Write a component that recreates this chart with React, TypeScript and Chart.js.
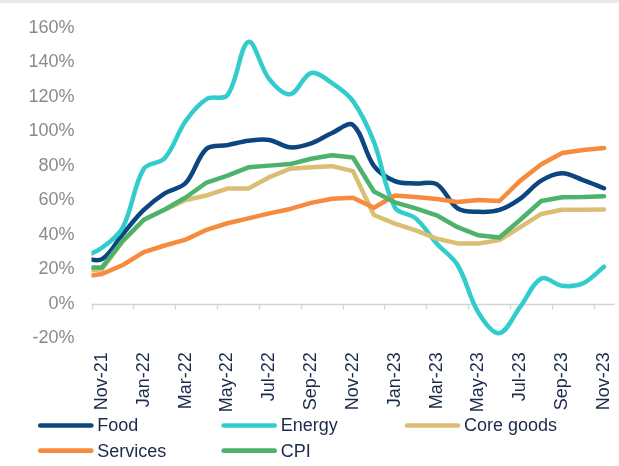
import React, { useEffect, useRef } from 'react';
import { Chart, registerables } from 'chart.js';

Chart.register(...registerables);

// Months (first entry is the lead-in month, left of the visible axis)
const months = [
  'Oct-21', 'Nov-21', 'Dec-21', 'Jan-22', 'Feb-22', 'Mar-22', 'Apr-22', 'May-22', 'Jun-22',
  'Jul-22', 'Aug-22', 'Sep-22', 'Oct-22', 'Nov-22', 'Dec-22', 'Jan-23', 'Feb-23', 'Mar-23',
  'Apr-23', 'May-23', 'Jun-23', 'Jul-23', 'Aug-23', 'Sep-23', 'Oct-23', 'Nov-23',
];

const food = [26.8, 25.9, 40.5, 54.4, 64, 70, 89.9, 92, 94.5, 95, 90.7, 93, 99, 103.7, 80, 71.1, 69.7, 69.4, 55.3, 53.3, 54.4, 61, 71.4, 75.7, 71.7, 67];
const energy = [26.5, 32.5, 44.4, 78.3, 84.4, 106, 118.7, 121, 151.8, 130.2, 121.5, 133.8, 127.9, 117.5, 93.9, 55.9, 49.5, 35, 22.5, -5.2, -17, -1.7, 14.7, 10.4, 11.9, 21.5];
const coreGoods = [19.3, 19.9, 36.3, 48.7, 54.5, 60.2, 62.8, 66.8, 66.8, 73.4, 78.3, 79.2, 79.8, 76.9, 51.5, 46.5, 42.6, 37.8, 35, 35, 36.9, 44.4, 52.1, 54.5, 54.5, 54.7];
const services = [15.5, 17.3, 22.5, 30, 33.8, 37.2, 42.9, 46.7, 49.5, 52.4, 55, 58.5, 60.9, 61.5, 55.7, 62.8, 61.9, 60.8, 59, 60.2, 59.6, 71.4, 80.9, 87.4, 89.1, 90.3];
const cpi = [21.1, 21.1, 36.6, 48.7, 54.7, 61.6, 70.3, 74.3, 79.1, 80.1, 81, 84.1, 86.1, 84.8, 65.1, 58.8, 55.3, 51.3, 44.4, 39.7, 38.4, 48.7, 59.6, 61.8, 61.9, 62.3];

const yTicks = [-20, 0, 20, 40, 60, 80, 100, 120, 140, 160];

const FONT = 'Liberation Sans, Arial, sans-serif';
const NAVY_TEXT = '#1b2a4a';
const GRAY_TEXT = '#8a8a8a';

const seriesDefs = [
  { label: 'Food', data: food, color: '#0c457f', tension: 0.35, order: 5 },
  { label: 'Energy', data: energy, color: '#33cccc', tension: 0.35, order: 4 },
  { label: 'Core goods', data: coreGoods, color: '#dbbd74', tension: 0, order: 3 },
  { label: 'Services', data: services, color: '#f68b3d', tension: 0, order: 2 },
  { label: 'CPI', data: cpi, color: '#4db36a', tension: 0, order: 1 },
];

// index relative to Nov-21
const xOf = (i: number) => i - 1;

const zeroAxisPlugin = {
  id: 'zeroAxis',
  beforeDatasetsDraw(chart: any) {
    const { ctx, chartArea, scales } = chart;
    const x = scales.x;
    const y = scales.y;
    const y0 = Math.round(y.getPixelForValue(0)) + 0.5;
    ctx.save();
    ctx.strokeStyle = '#d4d4d4';
    ctx.lineWidth = 1.3;
    ctx.beginPath();
    ctx.moveTo(chartArea.left, y0);
    ctx.lineTo(chartArea.right, y0);
    for (let k = 1; k < months.length; k += 2) {
      const px = Math.round(x.getPixelForValue(xOf(k) - 0.5)) + 0.5;
      ctx.moveTo(px, y0);
      ctx.lineTo(px, y0 + 5);
    }
    ctx.stroke();
    ctx.restore();
  },
};

const legendPlugin = {
  id: 'gridLegend',
  afterDraw(chart: any) {
    const { ctx } = chart;
    const cols = [38.3, 221.7, 405];
    const rows = [425.5, 450.7];
    ctx.save();
    ctx.font = `18px ${FONT}`;
    ctx.textBaseline = 'middle';
    ctx.textAlign = 'left';
    seriesDefs.forEach((s, i) => {
      const cx = cols[i % 3];
      const cy = rows[Math.floor(i / 3)];
      ctx.strokeStyle = s.color;
      ctx.lineWidth = 4.7;
      ctx.lineCap = 'round';
      ctx.beginPath();
      ctx.moveTo(cx + 2, cy);
      ctx.lineTo(cx + 53, cy);
      ctx.stroke();
      ctx.fillStyle = NAVY_TEXT;
      ctx.fillText(s.label, cx + 59, cy + 1);
    });
    ctx.restore();
  },
};

export default function App() {
  const ref = useRef<HTMLCanvasElement>(null);

  useEffect(() => {
    document.body.style.margin = '0';
    const canvas = ref.current;
    if (!canvas) return;
    const chart = new Chart(canvas, {
      type: 'line',
      data: {
        datasets: seriesDefs.map((s) => ({
          label: s.label,
          data: s.data.map((v, i) => ({ x: xOf(i), y: v })),
          borderColor: s.color,
          backgroundColor: s.color,
          borderWidth: 4.5,
          pointRadius: 0,
          pointHoverRadius: 0,
          tension: s.tension,
          borderCapStyle: 'round',
          borderJoinStyle: 'round',
          fill: false,
          order: s.order,
        })),
      },
      options: {
        responsive: false,
        animation: false,
        devicePixelRatio: 1,
        layout: { padding: { left: 28, right: 19.7, top: 26, bottom: 0 } },
        plugins: {
          legend: { display: false },
          tooltip: { enabled: false },
        },
        scales: {
          x: {
            type: 'linear',
            min: -0.5,
            max: 24.5,
            grid: { display: false, drawTicks: false },
            border: { display: false },
            afterBuildTicks: (scale: any) => {
              scale.ticks = months.slice(1).map((_, i) => ({ value: i }));
            },
            afterFit: (scale: any) => {
              scale.height = 127.7;
            },
            ticks: {
              autoSkip: false,
              minRotation: 90,
              maxRotation: 90,
              padding: 14,
              color: NAVY_TEXT,
              font: { family: FONT, size: 18 },
              callback: (value: any) => {
                const i = Math.round(Number(value));
                return i % 2 === 0 ? months[i + 1] : '';
              },
            },
          },
          y: {
            min: yTicks[0],
            max: yTicks[yTicks.length - 1],
            grid: { display: false, drawTicks: false },
            border: { display: false },
            afterBuildTicks: (scale: any) => {
              scale.ticks = yTicks.map((v) => ({ value: v }));
            },
            afterFit: (scale: any) => {
              scale.width = 63.5;
            },
            ticks: {
              padding: 17,
              color: GRAY_TEXT,
              font: { family: FONT, size: 18 },
              callback: (value: any) => `${value}%`,
            },
          },
        },
      },
      plugins: [zeroAxisPlugin, legendPlugin],
    } as any);
    return () => chart.destroy();
  }, []);

  return (
    <div style={{ position: 'relative', width: 619, height: 466, overflow: 'hidden', background: '#ffffff' }}>
      <div style={{ position: 'absolute', left: 0, top: 0, width: 619, height: 3, background: '#e9e9e9' }} />
      <canvas ref={ref} width={640} height={466} style={{ display: 'block', width: 640, height: 466 }} />
    </div>
  );
}
